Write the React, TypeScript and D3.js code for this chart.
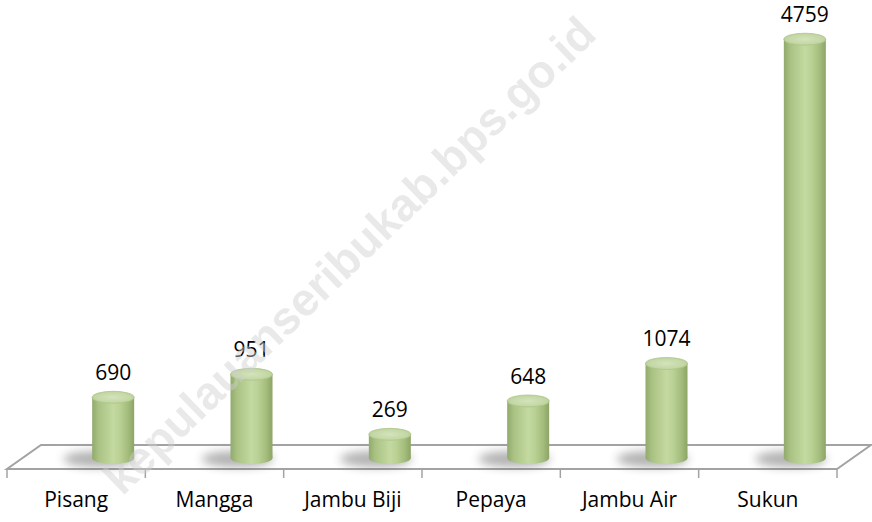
import React from "react";
import * as d3 from "d3";

const categories = ["Pisang", "Mangga", "Jambu Biji", "Pepaya", "Jambu Air", "Sukun"];
const values = [690, 951, 269, 648, 1074, 4759];
const watermark = "kepulauanseribukab.bps.go.id";

const W = 872;
const H = 522;
const frontY = 469;
const backY = 445;
const depthX = 34;
const floorLeft = 7;
const floorRight = 837;
const baseY = 458;
const cylOffset = 37;
const rx = 21;
const ry = 6;

export default function App() {
  const x = d3.scaleBand<string>().domain(categories).range([floorLeft, floorRight]).padding(0);
  const y = d3.scaleLinear().domain([0, 5000]).range([baseY, baseY - 440]);
  const font = "'Open Sans', sans-serif";
  const floorPts = [
    [floorLeft, frontY],
    [floorRight, frontY],
    [floorRight + depthX, backY],
    [floorLeft + depthX, backY],
  ];
  const floorPath = d3.line()(floorPts as [number, number][]) + "Z";
  const ticks = categories.map((c) => x(c)!).concat([floorRight]);

  return (
    <svg width={W} height={H} style={{ position: "absolute", left: 0, top: 0, background: "#fff" }}>
      <defs>
        <linearGradient id="body" x1="0" x2="1" y1="0" y2="0">
          <stop offset="0%" stopColor="#91aa6d" />
          <stop offset="15%" stopColor="#a9c283" />
          <stop offset="50%" stopColor="#c3d9a0" />
          <stop offset="65%" stopColor="#bad295" />
          <stop offset="85%" stopColor="#a4bd7d" />
          <stop offset="100%" stopColor="#8ca566" />
        </linearGradient>
        <radialGradient id="cap" cx="0.5" cy="0.5" r="0.6">
          <stop offset="0%" stopColor="#d4e3bc" />
          <stop offset="70%" stopColor="#c3d7a4" />
          <stop offset="100%" stopColor="#aec68b" />
        </radialGradient>
        <filter id="blur" x="-50%" y="-100%" width="200%" height="300%">
          <feGaussianBlur stdDeviation="5" />
        </filter>
      </defs>

      <path d={floorPath} fill="#fff" stroke="#a3a3a3" strokeWidth={2} strokeLinejoin="miter" />
      {ticks.map((t, i) => (
        <line key={i} x1={t} x2={t} y1={frontY} y2={frontY + 9} stroke="#a3a3a3" strokeWidth={1.5} />
      ))}

      {categories.map((c, i) => {
        const cx = x(c)! + x.bandwidth() / 2 + cylOffset;
        return (
          <ellipse
            key={"s" + i}
            cx={cx - 14}
            cy={baseY + 1}
            rx={36}
            ry={8}
            fill="#555"
            opacity={0.45}
            filter="url(#blur)"
          />
        );
      })}

      {categories.map((c, i) => {
        const cx = x(c)! + x.bandwidth() / 2 + cylOffset;
        const top = y(values[i]);
        return (
          <g key={"c" + i}>
            <rect x={cx - rx} y={top} width={rx * 2} height={baseY - top} fill="url(#body)" />
            <ellipse cx={cx} cy={baseY} rx={rx} ry={ry} fill="url(#body)" />
            <ellipse cx={cx} cy={top} rx={rx} ry={ry} fill="url(#cap)" stroke="#adc48b" strokeWidth={0.8} />
          </g>
        );
      })}

      {categories.map((c, i) => {
        const cx = x(c)! + x.bandwidth() / 2 + cylOffset;
        return (
          <text
            key={"v" + i}
            x={cx}
            y={y(values[i]) - 17}
            textAnchor="middle"
            fontFamily={font}
            fontSize={21}
            fill="#000"
          >
            {values[i]}
          </text>
        );
      })}

      {categories.map((c) => (
        <text
          key={"l" + c}
          x={x(c)! + x.bandwidth() / 2}
          y={507}
          textAnchor="middle"
          fontFamily={font}
          fontSize={21}
          fill="#000"
        >
          {c}
        </text>
      ))}

      <text
        transform="translate(352,258) rotate(-44)"
        textAnchor="middle"
        dominantBaseline="middle"
        fontFamily="'Liberation Sans', Arial, sans-serif"
        fontWeight="bold"
        fontSize={46}
        fill="#cfcfcf"
        opacity={0.45}
      >
        {watermark}
      </text>
    </svg>
  );
}
